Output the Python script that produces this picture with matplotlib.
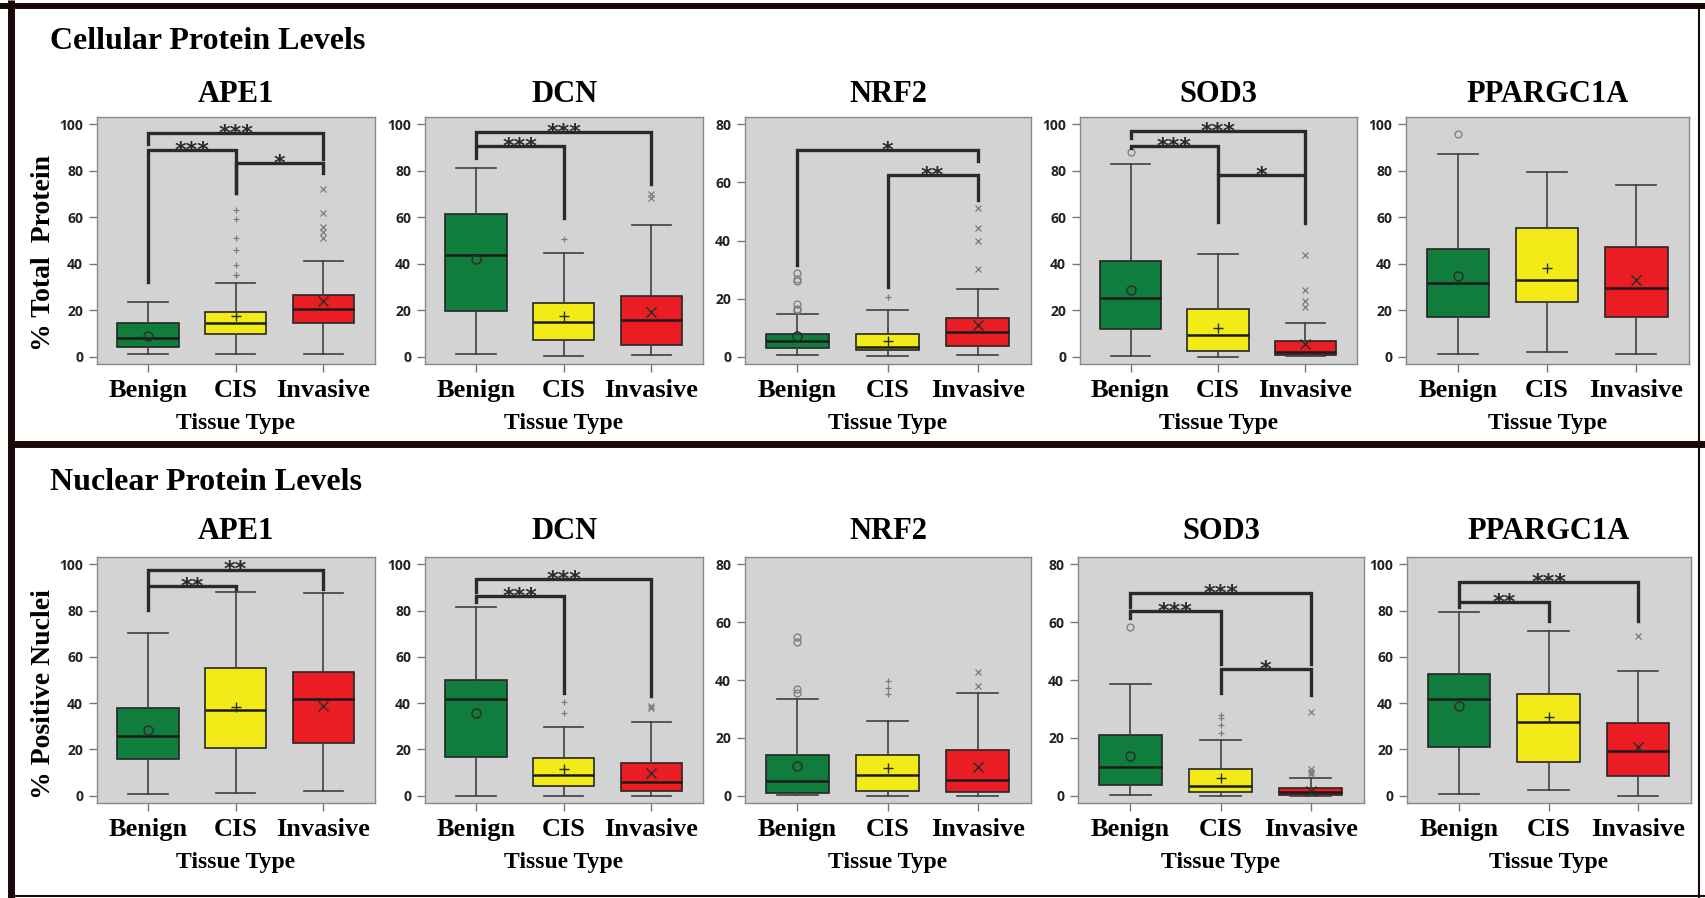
import matplotlib.pyplot as plt
from matplotlib.lines import Line2D

W, H = 1705, 898

tissue = ['Benign', 'CIS', 'Invasive']
box_colors = ['#107D3C', '#F2EB17', '#EA1D25']
marks = ['o', '+', 'x']

# each group: (whisker low, Q1, median, Q3, whisker high, mean)
# brackets: (group a, group b, bar height, left leg end, right leg end, label)

# --- cellular protein levels ---
cell_ape1_box = [(1.2, 4.0, 7.9, 14.4, 23.7, 8.9),
                 (1.0, 10.0, 14.4, 19.1, 31.7, 17.6),
                 (1.4, 14.7, 20.4, 26.5, 41.3, 24.2)]
cell_ape1_out = [[], [35.0, 35.3, 39.3, 46.0, 51.2, 59.1, 63.0],
                 [50.9, 53.7, 55.7, 61.7, 72.1]]
cell_ape1_sig = [(1, 3, 96.4, 91.5, 85.0, '***'),
                 (1, 2, 88.9, 32.0, 70.5, '***'),
                 (2, 3, 83.5, 70.5, 79.0, '*')]

cell_dcn_box = [(1.4, 19.7, 43.9, 61.2, 81.3, 41.9),
                (0.3, 7.2, 14.8, 23.2, 44.6, 17.4),
                (0.7, 4.9, 15.8, 26.2, 56.8, 19.1)]
cell_dcn_out = [[], [50.8], [68.1, 70.1]]
cell_dcn_sig = [(1, 3, 96.7, 92.0, 74.4, '***'),
                (1, 2, 90.6, 85.6, 59.7, '***')]

cell_nrf2_box = [(0.6, 2.9, 5.6, 7.9, 14.8, 7.1),
                 (0.2, 2.2, 3.3, 7.7, 16.2, 5.4),
                 (0.6, 3.6, 8.6, 13.3, 23.4, 11.0)]
cell_nrf2_out = [[16.1, 16.6, 18.3, 26.1, 26.6, 28.8], [20.6],
                 [30.2, 39.7, 44.2, 51.1]]
cell_nrf2_sig = [(1, 3, 71.1, 31.6, 67.4, '*'),
                 (2, 3, 62.5, 24.0, 53.8, '**')]

cell_sod3_box = [(0.4, 11.8, 25.4, 41.2, 82.9, 28.6),
                 (0.1, 2.7, 9.2, 20.7, 44.0, 12.5),
                 (0.3, 0.7, 2.2, 6.6, 14.6, 5.6)]
cell_sod3_out = [[88.1], [], [21.4, 24.2, 28.8, 43.6]]
cell_sod3_sig = [(1, 3, 97.1, 94.0, 79.2, '***'),
                 (1, 2, 90.8, 89.8, 79.2, '***'),
                 (2, 3, 78.0, 58.1, 57.7, '*')]

cell_ppar_box = [(1.0, 17.1, 31.7, 46.5, 87.4, 34.7),
                 (1.9, 23.5, 33.0, 55.5, 79.6, 38.2),
                 (1.4, 17.1, 29.4, 47.3, 73.9, 33.0)]
cell_ppar_out = [[95.7], [], []]
cell_ppar_sig = []

# --- nuclear protein levels ---
nuc_ape1_box = [(0.9, 15.8, 25.9, 37.8, 70.4, 28.2),
                (1.1, 20.8, 37.1, 55.3, 87.8, 38.2),
                (1.9, 23.0, 41.8, 53.6, 87.4, 38.9)]
nuc_ape1_out = [[], [], []]
nuc_ape1_sig = [(1, 3, 97.7, 91.7, 89.1, '**'),
                (1, 2, 90.5, 80.2, 89.2, '**')]

nuc_dcn_box = [(0.1, 16.7, 41.8, 50.1, 81.3, 35.9),
               (0.0, 4.3, 8.8, 16.4, 29.9, 11.5),
               (0.1, 1.9, 6.0, 14.2, 32.0, 9.8)]
nuc_dcn_out = [[], [35.9, 40.5], [37.9, 38.9]]
nuc_dcn_sig = [(1, 3, 93.5, 88.2, 43.2, '***'),
               (1, 2, 86.4, 83.6, 44.3, '***')]

nuc_nrf2_box = [(0.2, 1.1, 5.1, 14.0, 33.6, 10.4),
                (0.1, 1.7, 7.1, 14.0, 25.8, 9.6),
                (0.1, 1.4, 5.4, 15.7, 35.6, 10.1)]
nuc_nrf2_out = [[35.5, 36.9, 53.2, 55.0], [35.2, 37.3, 39.6],
                [37.9, 42.7]]
nuc_nrf2_sig = []

nuc_sod3_box = [(0.2, 3.6, 10.0, 21.1, 38.7, 13.7),
                (0.1, 1.4, 3.3, 9.1, 19.4, 6.3),
                (0.1, 0.3, 1.3, 2.6, 6.0, 1.5)]
nuc_sod3_out = [[58.2], [21.7, 24.5, 27.0, 27.8],
                [7.5, 8.3, 9.1, 28.9]]
nuc_sod3_sig = [(1, 3, 69.9, 65.1, 45.6, '***'),
                (1, 2, 63.7, 61.4, 45.6, '***'),
                (2, 3, 43.9, 35.5, 34.9, '*')]

nuc_ppar_box = [(1.0, 21.1, 41.9, 52.7, 79.2, 38.6),
                (2.3, 14.6, 31.7, 43.8, 71.3, 33.9),
                (0.1, 8.6, 19.4, 31.4, 54.1, 21.1)]
nuc_ppar_out = [[], [], [69.2]]
nuc_ppar_sig = [(1, 3, 92.4, 84.9, 75.6, '***'),
                (1, 2, 83.5, 81.3, 75.3, '**')]

proteins = ['APE1', 'DCN', 'NRF2', 'SOD3', 'PPARGC1A']
cell_ymax = [100, 100, 80, 100, 100]
nuc_ymax = [100, 100, 80, 80, 100]
cell_panels = list(zip(proteins, cell_ymax,
                       [cell_ape1_box, cell_dcn_box, cell_nrf2_box, cell_sod3_box, cell_ppar_box],
                       [cell_ape1_out, cell_dcn_out, cell_nrf2_out, cell_sod3_out, cell_ppar_out],
                       [cell_ape1_sig, cell_dcn_sig, cell_nrf2_sig, cell_sod3_sig, cell_ppar_sig]))
nuc_panels = list(zip(proteins, nuc_ymax,
                      [nuc_ape1_box, nuc_dcn_box, nuc_nrf2_box, nuc_sod3_box, nuc_ppar_box],
                      [nuc_ape1_out, nuc_dcn_out, nuc_nrf2_out, nuc_sod3_out, nuc_ppar_out],
                      [nuc_ape1_sig, nuc_dcn_sig, nuc_nrf2_sig, nuc_sod3_sig, nuc_ppar_sig]))

serif = 'Liberation Serif'
sans = 'Open Sans'

fig = plt.figure(figsize=(W / 100, H / 100), dpi=100)


def rect(left, right, top, bottom):
    # pixel box (top-left origin) -> figure fraction
    return [left / W, 1 - bottom / H, (right - left) / W, (bottom - top) / H]


def draw_panel(ax, name, ymax, box, out, sig, title_pad):
    ax.set_facecolor('#D3D3D3')
    for i, (lo, q1, med, q3, hi, mean) in enumerate(box):
        st = dict(whislo=lo, q1=q1, med=med, q3=q3, whishi=hi, mean=mean,
                  fliers=out[i])
        ax.bxp([st], positions=[i + 1], widths=0.7, capwidths=0.45,
               patch_artist=True, showmeans=True, manage_ticks=False,
               boxprops=dict(facecolor=box_colors[i], edgecolor='#262626', linewidth=1.2),
               whiskerprops=dict(color='#404040', linewidth=1.2),
               capprops=dict(color='#404040', linewidth=1.2),
               medianprops=dict(color='#1a1a1a', linewidth=1.8),
               meanprops=dict(marker=marks[i], markerfacecolor='none',
                              markeredgecolor='#2a2a2a', markersize=6.5,
                              markeredgewidth=1.0),
               flierprops=dict(marker=marks[i], markerfacecolor='none',
                               markeredgecolor='#7a7a7a', markersize=5,
                               markeredgewidth=0.9))
    for a, b, yb, yl, yr, lab in sig:
        ax.plot([a, a, b, b], [yl, yb, yb, yr], color='#2a2a2a', lw=2.4,
                solid_joinstyle='miter', zorder=3)
        ax.annotate(lab, xy=((a + b) / 2, yb), xytext=(0, -5),
                    textcoords='offset points', ha='center', va='baseline',
                    fontsize=16, fontweight='bold', color='#2a2a2a')
    ax.set_xlim(0.42, 3.59)
    ax.set_ylim(-0.031 * ymax, 1.031 * ymax)
    ax.set_yticks(range(0, ymax + 1, 20), labels=[str(v) for v in range(0, ymax + 1, 20)],
                  fontfamily=sans, fontweight='bold', fontsize=10, color='#222222')
    ax.set_xticks([1, 2, 3], labels=tissue, fontfamily=serif, fontweight='bold',
                  fontsize=19)
    ax.tick_params(direction='out', length=6, width=1, color='#777777')
    ax.tick_params(axis='y', pad=4)
    ax.tick_params(axis='x', pad=5)
    for s in ax.spines.values():
        s.set_color('#888888')
        s.set_linewidth(1.0)
    ax.set_xlabel('Tissue Type', fontfamily=serif, fontweight='bold', fontsize=17,
                  labelpad=8)
    ax.set_title(name, fontfamily=serif, fontweight='bold', fontsize=22, pad=title_pad)


cols_top = [(97, 375), (425, 703), (745, 1031), (1080, 1357), (1406, 1689)]
cols_bot = [(97, 375), (425, 703), (745, 1031), (1078, 1364), (1407, 1691)]

for j, p in enumerate(cell_panels):
    ax = fig.add_axes(rect(*cols_top[j], 117, 364))
    draw_panel(ax, *p, title_pad=11)
    if j == 0:
        ax.set_ylabel('% Total  Protein', fontfamily=serif, fontweight='bold', fontsize=20)
        ax.yaxis.set_label_coords(-0.147, 0.451)

for j, p in enumerate(nuc_panels):
    ax = fig.add_axes(rect(*cols_bot[j], 557, 803))
    draw_panel(ax, *p, title_pad=13)
    if j == 0:
        ax.set_ylabel('% Positive Nuclei', fontfamily=serif, fontweight='bold', fontsize=20)
        ax.yaxis.set_label_coords(-0.147, 0.443)

fig.text(50 / W, 1 - 49 / H, 'Cellular Protein Levels', fontfamily=serif,
         fontweight='bold', fontsize=23, va='baseline')
fig.text(50 / W, 1 - 490 / H, 'Nuclear Protein Levels', fontfamily=serif,
         fontweight='bold', fontsize=23, va='baseline')

# outer frame and section divider
frame = '#1a0808'
for (x0, y0, x1, y1, lw) in [(0, 6, W, 6, 4.3), (11, 0, 11, H, 5.0),
                             (11, 444, W, 444, 5.0), (1699, 6, 1699, H, 1.5),
                             (11, 896, W, 896, 1.5)]:
    fig.add_artist(Line2D([x0 / W, x1 / W], [1 - y0 / H, 1 - y1 / H], color=frame,
                          lw=lw, solid_capstyle='butt'))

fig.savefig('out.png', dpi=100)
